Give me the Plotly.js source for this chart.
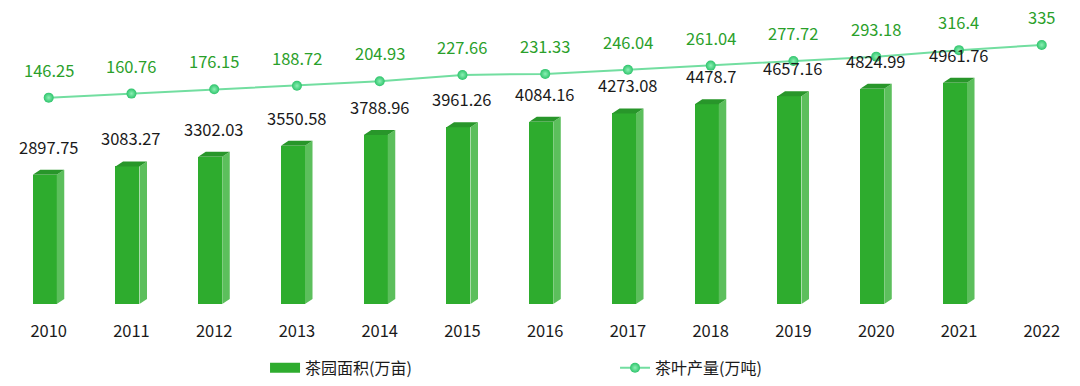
<!DOCTYPE html>
<html>
<head>
<meta charset="utf-8">
<script src="https://cdn.plot.ly/plotly-3.0.1.min.js"></script>
<style>html,body{margin:0;padding:0;background:#fff;}#chart{width:1080px;height:386px;}</style>
</head>
<body>
<div id="chart"></div>
<script>
// ---- data ----
const years = [2010, 2011, 2012, 2013, 2014, 2015, 2016, 2017, 2018, 2019, 2020, 2021, 2022];
const yearLabels = ["2010","2011","2012","2013","2014","2015","2016","2017","2018","2019","2020","2021","2022"];
const gardenArea = [2897.75, 3083.27, 3302.03, 3550.58, 3788.96, 3961.26, 4084.16, 4273.08, 4478.7, 4657.16, 4824.99, 4961.76, null];
const teaOutput = [146.25, 160.76, 176.15, 188.72, 204.93, 227.66, 231.33, 246.04, 261.04, 277.72, 293.18, 316.4, 335];
const areaName = "茶园面积(万亩)";
const outputName = "茶叶产量(万吨)";

// ---- style ----
const FONT = "'Noto Sans CJK SC', 'Noto Sans', sans-serif";
const frontColor = "#2eac2e", sideColor = "#5cbf5c", topColor = "#28962a";
const lineColor = "#72dea0", markerColor = "#2fc46c";
const xl = -0.193, xr = 0.097, dx = 0.091, dd = 112; // 3D geometry (x in category units, dd in value units)

const sideX = [], sideY = [], topX = [], topY = [];
years.forEach((yr, i) => {
  const v = gardenArea[i];
  if (v == null) return;
  sideX.push(yr + xr, yr + xr + dx, yr + xr + dx, yr + xr, null);
  sideY.push(0, dd, v + dd, v, null);
  topX.push(yr + xl, yr + xl + dx, yr + xr + dx, yr + xr, null);
  topY.push(v, v + dd, v + dd, v, null);
});

const traces = [
  { type: "bar", x: years, y: gardenArea, base: 0, width: 0.29, offset: xl,
    marker: { color: frontColor, line: { width: 0 } }, showlegend: false, hoverinfo: "x+y" },
  { type: "scatter", mode: "lines", x: sideX, y: sideY, fill: "toself", fillcolor: sideColor,
    line: { width: 0, color: sideColor }, showlegend: false, hoverinfo: "skip" },
  { type: "scatter", mode: "lines", x: topX, y: topY, fill: "toself", fillcolor: topColor,
    line: { width: 0, color: topColor }, showlegend: false, hoverinfo: "skip" },
  // legend proxy for the bars
  { type: "scatter", mode: "lines", x: [null], y: [null], name: areaName,
    line: { color: frontColor, width: 10 }, showlegend: true, hoverinfo: "skip" },
  { type: "scatter", mode: "lines+markers", x: years, y: teaOutput, yaxis: "y2", name: outputName,
    line: { color: lineColor, width: 2 },
    marker: { color: markerColor, size: 10, gradient: { type: "radial", color: "#8cf0b4" } } }
];

const annotations = [];
years.forEach((yr, i) => {
  if (gardenArea[i] != null) {
    annotations.push({ x: yr, y: gardenArea[i], xref: "x", yref: "y", text: String(gardenArea[i]),
      showarrow: false, yshift: 28, yanchor: "middle", font: { family: FONT, size: 16.5, color: "#1a1a1a" } });
  }
  annotations.push({ x: yr, y: teaOutput[i], xref: "x", yref: "y2", text: String(teaOutput[i]),
    showarrow: false, yshift: 28, yanchor: "middle", font: { family: FONT, size: 16.5, color: "#2aa02a" } });
});

const layout = {
  width: 1080, height: 386,
  margin: { l: 0, r: 0, t: 0, b: 82, pad: 0 },
  paper_bgcolor: "#fff", plot_bgcolor: "#fff",
  font: { family: FONT, size: 16, color: "#1a1a1a" },
  showlegend: true,
  legend: { orientation: "h", x: 0.2454, xanchor: "left", y: -0.21, yanchor: "middle",
    entrywidth: 305, entrywidthmode: "pixels", font: { family: FONT, size: 16, color: "#1a1a1a" } },
  xaxis: { range: [2009.4115, 2022.4626], tickmode: "array", tickvals: years, ticktext: yearLabels,
    showgrid: false, zeroline: false, showline: false, ticks: "outside", ticklen: 12,
    tickcolor: "rgba(0,0,0,0)", tickfont: { family: FONT, size: 16.5, color: "#1a1a1a" }, fixedrange: true },
  yaxis: { range: [0, 6816], visible: false, showgrid: false, zeroline: false, fixedrange: true },
  yaxis2: { range: [-592.8, 496], overlaying: "y", side: "right", visible: false, showgrid: false, zeroline: false, fixedrange: true },
  annotations: annotations,
  bargap: 0
};

Plotly.newPlot("chart", traces, layout, { displayModeBar: false, staticPlot: true });
</script>
</body>
</html>
